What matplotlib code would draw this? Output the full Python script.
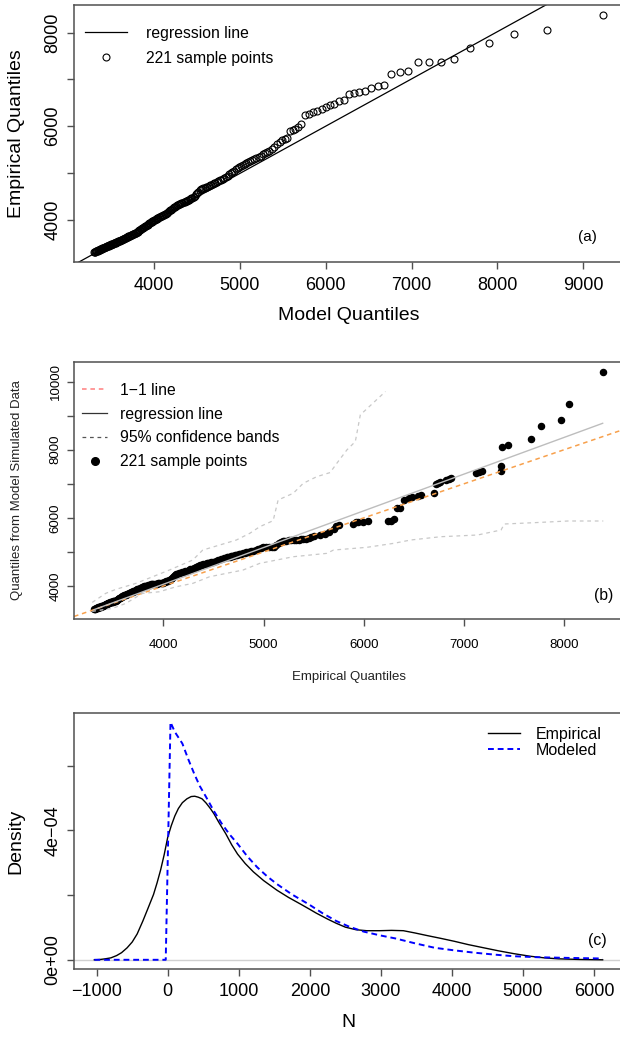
import numpy as np
import matplotlib.pyplot as plt
from matplotlib.lines import Line2D

plt.rcParams['font.family'] = ['Liberation Sans', 'DejaVu Sans']

# sorted empirical sample (221 values) -- y in panel (a), x in panel (b)
empirical = [
    3312, 3317, 3323, 3328, 3334, 3339, 3344, 3349, 3354, 3360,
    3365, 3371, 3376, 3382, 3387, 3393, 3398, 3403, 3409, 3414,
    3419, 3425, 3430, 3436, 3441, 3447, 3452, 3458, 3462, 3468,
    3474, 3479, 3485, 3491, 3496, 3502, 3507, 3512, 3518, 3523,
    3529, 3535, 3541, 3547, 3553, 3559, 3566, 3572, 3580, 3586,
    3593, 3600, 3607, 3614, 3621, 3628, 3635, 3642, 3648, 3656,
    3663, 3670, 3679, 3686, 3693, 3700, 3708, 3716, 3723, 3731,
    3741, 3752, 3763, 3775, 3787, 3797, 3809, 3821, 3831, 3843,
    3854, 3866, 3879, 3891, 3902, 3914, 3926, 3938, 3950, 3962,
    3975, 3987, 3997, 4007, 4017, 4026, 4036, 4046, 4056, 4066,
    4077, 4088, 4098, 4109, 4120, 4130, 4141, 4155, 4171, 4186,
    4203, 4219, 4236, 4252, 4269, 4285, 4302, 4313, 4323, 4333,
    4345, 4356, 4366, 4378, 4389, 4400, 4412, 4425, 4436, 4448,
    4461, 4475, 4495, 4521, 4550, 4578, 4607, 4636, 4650, 4661,
    4674, 4686, 4698, 4711, 4724, 4736, 4751, 4765, 4779, 4794,
    4811, 4827, 4843, 4860, 4876, 4899, 4924, 4948, 4972, 4996,
    5023, 5052, 5080, 5106, 5128, 5151, 5172, 5190, 5209, 5227,
    5250, 5272, 5300, 5326, 5353, 5375, 5399, 5424, 5449, 5475,
    5507, 5561, 5613, 5658, 5700, 5725, 5752, 5890, 5925, 5943,
    5990, 6045, 6240, 6270, 6300, 6328, 6366, 6400, 6447, 6478,
    6538, 6568, 6698, 6717, 6740, 6762, 6824, 6851, 6870, 7124,
    7152, 7176, 7372, 7374, 7377, 7442, 7665, 7766, 7965, 8044, 8384,
]

# fitted model quantiles -- x in panel (a)
model_q = [
    3303, 3309, 3315, 3321, 3328, 3334, 3340, 3346, 3352, 3358,
    3364, 3371, 3377, 3384, 3390, 3397, 3403, 3409, 3416, 3422,
    3429, 3436, 3442, 3449, 3456, 3462, 3469, 3476, 3482, 3489,
    3496, 3503, 3510, 3517, 3524, 3531, 3538, 3544, 3551, 3558,
    3565, 3573, 3580, 3588, 3595, 3602, 3610, 3617, 3625, 3632,
    3640, 3648, 3655, 3663, 3671, 3678, 3686, 3694, 3701, 3709,
    3717, 3725, 3734, 3742, 3750, 3758, 3766, 3775, 3783, 3791,
    3800, 3808, 3817, 3826, 3835, 3843, 3852, 3861, 3869, 3878,
    3887, 3896, 3906, 3915, 3924, 3933, 3942, 3952, 3961, 3970,
    3980, 3990, 4000, 4010, 4020, 4029, 4039, 4049, 4059, 4069,
    4080, 4091, 4101, 4112, 4123, 4134, 4145, 4155, 4166, 4177,
    4189, 4200, 4212, 4223, 4235, 4246, 4258, 4269, 4281, 4292,
    4305, 4318, 4330, 4343, 4356, 4368, 4381, 4394, 4406, 4419,
    4433, 4447, 4461, 4474, 4488, 4502, 4516, 4530, 4543, 4557,
    4573, 4588, 4604, 4620, 4636, 4651, 4667, 4683, 4698, 4714,
    4732, 4750, 4767, 4785, 4803, 4820, 4838, 4856, 4873, 4891,
    4911, 4932, 4952, 4973, 4993, 5013, 5034, 5054, 5075, 5095,
    5120, 5144, 5169, 5193, 5218, 5242, 5267, 5292, 5316, 5341,
    5371, 5402, 5432, 5463, 5493, 5523, 5554, 5584, 5615, 5645,
    5680, 5717, 5756, 5806, 5857, 5903, 5953, 6000, 6050, 6097,
    6155, 6213, 6271, 6329, 6388, 6457, 6527, 6605, 6679, 6765,
    6861, 6958, 7074, 7199, 7342, 7498, 7684, 7906, 8192, 8581, 9228,
]

# quantiles of data simulated from the model -- y in panel (b)
simulated_q = [
    3322, 3331, 3341, 3350, 3357, 3363, 3367, 3372, 3377, 3383,
    3388, 3394, 3398, 3404, 3409, 3416, 3423, 3430, 3439, 3446,
    3454, 3462, 3469, 3478, 3485, 3494, 3501, 3510, 3513, 3519,
    3524, 3528, 3533, 3538, 3543, 3548, 3552, 3556, 3561, 3565,
    3574, 3587, 3599, 3612, 3624, 3637, 3652, 3664, 3681, 3693,
    3708, 3716, 3724, 3733, 3741, 3749, 3758, 3766, 3773, 3783,
    3792, 3802, 3815, 3825, 3835, 3845, 3857, 3868, 3879, 3890,
    3905, 3921, 3937, 3955, 3973, 3984, 3995, 4006, 4014, 4025,
    4035, 4043, 4048, 4053, 4058, 4063, 4068, 4073, 4079, 4084,
    4089, 4094, 4102, 4114, 4125, 4136, 4148, 4160, 4171, 4192,
    4221, 4250, 4276, 4305, 4334, 4354, 4363, 4375, 4388, 4400,
    4414, 4430, 4450, 4469, 4489, 4508, 4528, 4541, 4553, 4565,
    4579, 4592, 4604, 4618, 4631, 4642, 4651, 4661, 4670, 4679,
    4690, 4701, 4716, 4737, 4764, 4792, 4821, 4848, 4857, 4864,
    4873, 4881, 4889, 4898, 4907, 4916, 4928, 4939, 4950, 4962,
    4976, 4988, 5001, 5013, 5025, 5043, 5061, 5080, 5109, 5137,
    5141, 5145, 5149, 5153, 5199, 5261, 5289, 5313, 5327, 5335,
    5345, 5352, 5356, 5360, 5364, 5368, 5372, 5390, 5408, 5434,
    5479, 5501, 5514, 5578, 5685, 5749, 5793, 5828, 5870, 5880,
    5893, 5902, 5909, 5918, 5968, 6291, 6300, 6526, 6584, 6605,
    6643, 6681, 6740, 6996, 7034, 7063, 7113, 7150, 7181, 7310,
    7339, 7377, 7377, 7524, 8073, 8132, 8308, 8699, 8866, 9345, 10285,
]

# regression lines (intercept, slope)
reg_a = (-45.0, 1.0077)
reg_b = (-255.0, 1.077)

# 95% confidence bands of panel (b)
band_up_x = [3291, 3425, 3526, 3726, 3893, 4060, 4294, 4394, 4562, 4729, 4863,
             4963, 5096, 5146, 5297, 5397, 5532, 5665, 5732, 5832, 5916, 5966, 6217]
band_up_y = [3521, 3786, 3903, 4079, 4273, 4470, 4764, 5057, 5204, 5351, 5548,
             5742, 5918, 6526, 6723, 7016, 7210, 7330, 7604, 7994, 8238, 9022, 9707]
band_lo_x = [3291, 3492, 3626, 3792, 3960, 4127, 4294, 4461, 4629, 4795, 4963, 5130,
             5297, 5632, 5698, 6032, 6300, 6467, 6768, 7136, 7370, 7403, 7704, 8039, 8390]
band_lo_y = [3260, 3345, 3492, 3786, 3833, 3980, 4079, 4273, 4373, 4470, 4667, 4764,
             4861, 4960, 5057, 5137, 5254, 5351, 5448, 5498, 5645, 5821, 5860, 5909, 5909]

# densities of N (units of 1e-4), panel (c)
emp_n = [-1033, -950, -880, -800, -720, -650, -572, -500, -430, -350, -280, -200,
         -150, -100, -50, 0, 50, 100, 150, 206, 270, 330, 380, 430, 483, 540, 600,
         650, 720, 817, 900, 983, 1090, 1206, 1350, 1539, 1700, 1872, 2000, 2094,
         2250, 2372, 2500, 2650, 2800, 2983, 3150, 3317, 3480, 3650, 3850, 4039,
         4230, 4428, 4650, 4872, 5100, 5300, 5500, 5800, 6122]
emp_dens = [0.0, 0.01, 0.03, 0.06, 0.13, 0.22, 0.37, 0.55, 0.80, 1.20, 1.58, 2.02,
            2.38, 2.78, 3.25, 3.79, 4.15, 4.45, 4.68, 4.86, 4.98, 5.05, 5.06, 5.03,
            4.98, 4.85, 4.68, 4.52, 4.25, 3.90, 3.56, 3.27, 2.98, 2.72, 2.45, 2.15,
            1.93, 1.72, 1.56, 1.44, 1.26, 1.13, 1.01, 0.93, 0.90, 0.90, 0.91, 0.90,
            0.83, 0.75, 0.66, 0.57, 0.47, 0.38, 0.28, 0.19, 0.11, 0.06, 0.03, 0.01,
            0.0]
mod_n = [-1033, -28, 39, 100, 206, 290, 372, 450, 539, 650, 761, 870, 983, 1120,
         1261, 1400, 1539, 1750, 1983, 2180, 2372, 2560, 2761, 3000, 3206, 3480,
         3761, 4040, 4317, 4600, 4872, 5200, 5600, 6122]
mod_dens = [0.0, 0.0, 7.35, 7.05, 6.69, 6.20, 5.76, 5.38, 5.04, 4.60, 4.21, 3.88,
            3.59, 3.20, 2.86, 2.58, 2.34, 2.02, 1.72, 1.44, 1.20, 1.02, 0.87, 0.75,
            0.66, 0.51, 0.37, 0.29, 0.22, 0.16, 0.11, 0.08, 0.06, 0.04]


def r_range(vals):
    lo, hi = min(vals), max(vals)
    pad = 0.04 * (hi - lo)
    return lo - pad, hi + pad


def style_axes(ax, tick_size, xpad):
    for s in ax.spines.values():
        s.set_color('#505050')
        s.set_linewidth(1.1)
    ax.tick_params(direction='out', length=5, width=1.0, color='#505050',
                   labelsize=tick_size, pad=4)
    ax.tick_params(axis='x', pad=xpad)


def rotate_yticks(ax):
    for lab in ax.get_yticklabels():
        lab.set_rotation(90)
        lab.set_va('center')


W, H = 620, 1037
fig = plt.figure(figsize=(W / 100, H / 100), dpi=100)


def px_axes(top, bottom, left=74, right=623):
    return fig.add_axes([left / W, 1 - bottom / H, (right - left) / W, (bottom - top) / H])


# ---- (a) model vs empirical quantiles ----
ax = px_axes(5, 261.7)
ax.set_xlim(r_range(model_q))
ax.set_ylim(r_range(empirical))
ax.plot(model_q, empirical, ls='none', marker='o', mfc='none', mec='black',
        ms=5, mew=0.8)
xl = np.array(ax.get_xlim())
ax.plot(xl, reg_a[0] + reg_a[1] * xl, color='black', lw=0.9)
ax.set_xticks(range(4000, 9001, 1000))
ax.set_yticks(range(4000, 8001, 1000))
ax.set_yticklabels(['4000', '', '6000', '', '8000'])
style_axes(ax, 13, 6.2)
rotate_yticks(ax)
ax.set_xlabel('Model Quantiles', fontsize=14, va='center')
ax.set_ylabel('Empirical Quantiles', fontsize=14, va='center')
ax.xaxis.set_label_coords(0.5, -0.211)
ax.yaxis.set_label_coords(-0.104, 0.5)
ax.text(0.935, 0.097, '(a)', transform=ax.transAxes, fontsize=11,
        ha='center', va='center')
ax.legend([Line2D([], [], color='black', lw=0.9),
           Line2D([], [], ls='none', marker='o', mfc='none', mec='black', ms=5, mew=0.8)],
          ['regression line', '221 sample points'],
          loc='upper left', bbox_to_anchor=(85 / W, 1 - 25.8 / H),
          bbox_transform=fig.transFigure, frameon=False, fontsize=11.3,
          borderpad=0, borderaxespad=0, handlelength=2.65, handletextpad=1.25,
          labelspacing=0.62)

# ---- (b) simulated vs empirical quantiles ----
ax = px_axes(362.3, 618.7)
ax.set_xlim(r_range(empirical))
ax.set_ylim(r_range(simulated_q))
ax.plot(empirical, simulated_q, ls='none', marker='o', color='black', ms=4.4)
xl = np.array(ax.get_xlim())
ax.plot(xl, xl, color='#F7A04C', lw=1.1, ls=(0, (3, 2.5)))
ex = np.array([min(empirical), max(empirical)])
ax.plot(ex, reg_b[0] + reg_b[1] * ex, color='#BDBDBD', lw=1.0)
ax.plot(band_up_x, band_up_y, color='#C8C8C8', lw=0.9, ls=(0, (3, 3)))
ax.plot(band_lo_x, band_lo_y, color='#C8C8C8', lw=0.9, ls=(0, (3, 3)))
ax.set_xticks(range(4000, 8001, 1000))
ax.set_yticks(range(4000, 10001, 1000))
ax.set_yticklabels(['4000', '', '6000', '', '8000', '', '10000'])
style_axes(ax, 9.5, 9.5)
rotate_yticks(ax)
ax.set_xlabel('Empirical Quantiles', fontsize=9.5, va='center', color='#222222')
ax.set_ylabel('Quantiles from Model Simulated Data', fontsize=9.5, va='center',
              color='#222222')
ax.xaxis.set_label_coords(0.5, -0.226)
ax.yaxis.set_label_coords(-0.103, 0.5)
ax.text(0.964, 0.092, '(b)', transform=ax.transAxes, fontsize=11.3,
        ha='center', va='center')
ax.legend([Line2D([], [], color='#FF7F7F', lw=1.1, ls=(0, (3, 2.5))),
           Line2D([], [], color='#333333', lw=0.9),
           Line2D([], [], color='#555555', lw=0.9, ls=(0, (3, 3))),
           Line2D([], [], ls='none', marker='o', color='black', ms=5.5)],
          ['1\u22121 line', 'regression line', '95% confidence bands',
           '221 sample points'],
          loc='upper left', bbox_to_anchor=(82 / W, 1 - 382.8 / H),
          bbox_transform=fig.transFigure, frameon=False, fontsize=11.3,
          borderpad=0, borderaxespad=0, handlelength=1.6, handletextpad=0.85,
          labelspacing=0.56)

# ---- (c) density of N ----
ax = px_axes(712.7, 969.3)
emp_d = np.array(emp_dens) * 1e-4
mod_d = np.array(mod_dens) * 1e-4
ax.set_xlim(r_range(emp_n + mod_n))
ax.set_ylim(r_range(list(emp_d) + list(mod_d)))
ax.axhline(0, color='#D0D0D0', lw=1.0)
ax.plot(emp_n, emp_d, color='black', lw=1.0)
ax.plot(mod_n, mod_d, color='#0000FF', lw=1.4, ls=(0, (3, 2)))
ax.set_xticks(range(-1000, 6001, 1000))
ax.set_xticklabels(['\u22121000'] + [str(v) for v in range(0, 6001, 1000)])
ax.set_yticks([0, 2e-4, 4e-4, 6e-4])
ax.set_yticklabels(['0e+00', '', '4e\u221204', ''])
style_axes(ax, 13, 5.2)
rotate_yticks(ax)
ax.set_xlabel('N', fontsize=14, va='center')
ax.set_ylabel('Density', fontsize=14, va='center')
ax.xaxis.set_label_coords(0.5, -0.209)
ax.yaxis.set_label_coords(-0.106, 0.5)
ax.text(0.953, 0.114, '(c)', transform=ax.transAxes, fontsize=11.5,
        ha='center', va='center')
ax.legend([Line2D([], [], color='black', lw=1.0),
           Line2D([], [], color='#0000FF', lw=1.4, ls=(0, (3, 2)))],
          ['Empirical', 'Modeled'],
          loc='upper left', bbox_to_anchor=(488 / W, 1 - 726.5 / H),
          bbox_transform=fig.transFigure, frameon=False, fontsize=11.5,
          borderpad=0, borderaxespad=0, handlelength=2.0, handletextpad=1.0,
          labelspacing=0.08)

fig.savefig('out.png', dpi=100)
